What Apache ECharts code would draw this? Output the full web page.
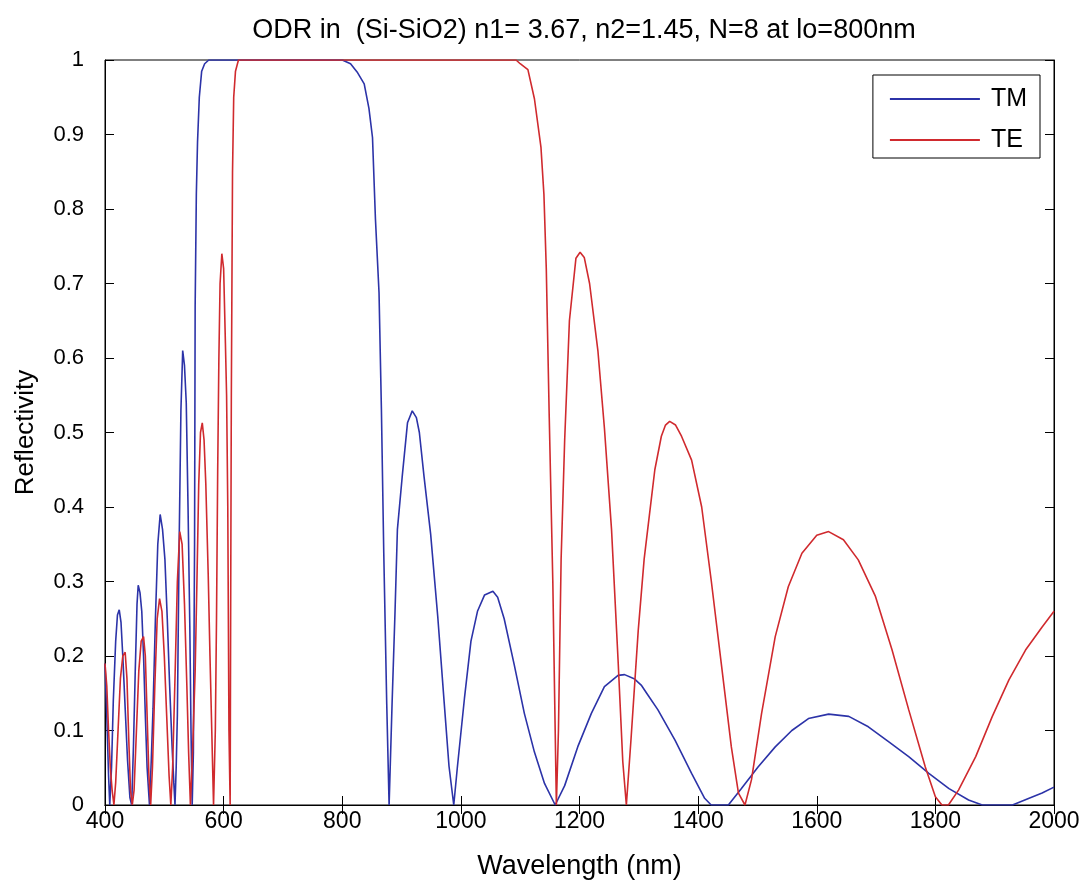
<!DOCTYPE html>
<html>
<head>
<meta charset="utf-8">
<script src="https://cdn.jsdelivr.net/npm/echarts@6/dist/echarts.min.js"></script>
<style>
  html, body { margin: 0; padding: 0; background: #fff; }
  #chart { width: 1084px; height: 882px; }
</style>
</head>
<body>
<div id="chart"></div>
<script>
// [wavelength nm, reflectivity]
const tmCurve = [
  [400,0.19],[403,0.12],[406,0.04],[408,0],[411,0.05],[414,0.14],[418,0.22],[421,0.255],[424,0.262],
  [427,0.245],[430,0.2],[434,0.13],[438,0.06],[442,0.01],[445,0],[448,0.08],[451,0.18],[454,0.27],
  [456,0.295],[459,0.285],[462,0.26],[465,0.2],[468,0.12],[471,0.05],[475,0],[478,0.06],[481,0.13],
  [485,0.25],[489,0.35],[493,0.39],[497,0.37],[501,0.33],[505,0.25],[509,0.16],[513,0.08],[516,0.03],
  [518,0],[520,0.05],[522,0.12],[525,0.35],[528,0.53],[531,0.61],[534,0.59],[537,0.54],[540,0.4],
  [543,0.24],[545,0.1],[547,0],[549,0.07],[551,0.35],[552,0.67],[554,0.82],[556,0.89],[559,0.95],
  [563,0.985],[568,0.995],[575,1],[600,1],[700,1],[790,1],[800,1],[814,0.995],[825,0.984],[837,0.968],
  [845,0.935],[851,0.896],[856,0.786],[862,0.688],[866,0.532],[870,0.338],[875,0.136],[879,0],
  [884,0.136],[889,0.26],[893,0.37],[901,0.44],[910,0.513],[918,0.529],[925,0.52],[930,0.5],[938,0.44],
  [949,0.364],[961,0.253],[972,0.136],[980,0.052],[988,0],[994,0.05],[1006,0.143],[1017,0.22],
  [1028,0.26],[1040,0.282],[1054,0.287],[1062,0.279],[1073,0.25],[1090,0.188],[1107,0.123],
  [1124,0.071],[1141,0.029],[1159,0],[1175,0.026],[1197,0.078],[1220,0.123],[1242,0.159],[1265,0.174],
  [1276,0.175],[1293,0.169],[1304,0.161],[1315,0.148],[1332,0.128],[1361,0.087],[1389,0.0425],
  [1411,0.009],[1422,0],[1451,0],[1473,0.022],[1501,0.051],[1530,0.078],[1558,0.1],[1586,0.116],
  [1620,0.122],[1654,0.119],[1687,0.105],[1721,0.085],[1755,0.065],[1789,0.0425],[1823,0.022],
  [1856,0.0067],[1879,0],[1930,0],[1958,0.009],[1980,0.016],[2000,0.024]
]

const teCurve = [
  [400,0.19],[403,0.16],[406,0.1],[409,0.05],[412,0.02],[415,0],[418,0.03],[422,0.1],[426,0.17],
  [430,0.2],[434,0.205],[437,0.17],[440,0.09],[443,0.02],[446,0],[449,0.02],[453,0.1],[457,0.18],
  [461,0.22],[465,0.226],[468,0.2],[471,0.12],[474,0.04],[477,0],[480,0.05],[484,0.16],[488,0.25],
  [492,0.277],[496,0.26],[500,0.2],[504,0.12],[508,0.04],[511,0],[514,0.05],[518,0.17],[522,0.3],
  [526,0.367],[530,0.35],[534,0.27],[538,0.16],[541,0.07],[544,0],[548,0.08],[552,0.18],[555,0.3],
  [558,0.43],[561,0.5],[564,0.513],[567,0.49],[570,0.43],[574,0.31],[577,0.2],[580,0.1],[583,0],
  [586,0.1],[588,0.25],[590,0.45],[592,0.6],[594,0.7],[597,0.74],[600,0.72],[603,0.62],[605,0.55],
  [607,0.4],[609,0.1],[611,0],[612,0.3],[613,0.55],[615,0.85],[617,0.95],[620,0.985],[625,1],
  [800,1],[1000,1],[1093,1],[1100,0.995],[1113,0.987],[1124,0.948],[1135,0.883],[1140,0.82],
  [1144,0.72],[1149,0.52],[1155,0.3],[1159,0.1],[1161,0],[1164.5,0.1],[1169,0.33],[1175,0.49],
  [1183,0.65],[1194,0.734],[1201,0.742],[1208,0.735],[1217,0.7],[1231,0.61],[1242,0.506],[1254,0.37],
  [1265,0.195],[1273,0.058],[1279,0],[1287,0.09],[1299,0.234],[1309,0.33],[1318,0.39],[1327,0.45],
  [1338,0.495],[1345,0.51],[1352,0.515],[1362,0.51],[1372,0.495],[1389,0.463],[1406,0.4],[1422,0.302],
  [1439,0.19],[1456,0.078],[1468,0.016],[1479,0],[1490,0.034],[1507,0.123],[1530,0.226],[1552,0.293],
  [1575,0.338],[1600,0.362],[1620,0.367],[1645,0.356],[1670,0.329],[1699,0.28],[1727,0.208],
  [1755,0.128],[1783,0.051],[1800,0.011],[1811,0],[1822,0],[1839,0.02],[1868,0.065],[1896,0.119],
  [1924,0.168],[1952,0.208],[1980,0.239],[2000,0.26]
]

const seriesNames = ['TM', 'TE']
const titleText = 'ODR in  (Si-SiO2) n1= 3.67, n2=1.45, N=8 at lo=800nm'

const font = "'Liberation Sans', Arial, Helvetica, sans-serif"

const chart = echarts.init(document.getElementById('chart'), null, { renderer: 'canvas' })

// shared axis look, matlab style: box, ticks inside
const tickStyle = { inside: true, length: 9, lineStyle: { color: '#000', width: 1 } }

chart.setOption({
  animation: false,
  backgroundColor: '#fff',
  title: {
    text: titleText,
    left: 579,
    textAlign: 'center',
    top: 12,
    textStyle: { fontFamily: font, fontSize: 27, fontWeight: 'normal', color: '#000' }
  },
  grid: {
    left: 105,
    right: 30,
    top: 60,
    bottom: 77,
    outerBoundsMode: 'none',
    show: true,
    borderColor: '#000',
    borderWidth: 1
  },
  legend: {
    data: seriesNames,
    orient: 'vertical',
    right: 44,
    top: 75,
    icon: 'rect',
    itemWidth: 90,
    itemHeight: 2,
    itemGap: 13,
    padding: [10, 13, 4, 17],
    borderColor: '#000',
    borderWidth: 1,
    backgroundColor: '#fff',
    textStyle: { fontFamily: font, fontSize: 25, color: '#000', lineHeight: 28, padding: [0, 0, 0, 6] }
  },
  xAxis: [{
    type: 'value',
    min: 400,
    max: 2000,
    interval: 200,
    name: 'Wavelength (nm)',
    nameLocation: 'middle',
    nameGap: 48,
    nameTextStyle: { fontFamily: font, fontSize: 27, color: '#000' },
    axisLine: { lineStyle: { color: '#000' } },
    axisTick: tickStyle,
    axisLabel: { fontFamily: font, fontSize: 23, color: '#000', margin: 5, formatter: v => String(v) },
    splitLine: { show: false }
  }, {
    type: 'value',
    position: 'top',
    min: 400,
    max: 2000,
    interval: 200,
    axisLine: { lineStyle: { color: '#000' } },
    axisTick: tickStyle,
    axisLabel: { show: false },
    splitLine: { show: false }
  }],
  yAxis: [{
    type: 'value',
    min: 0,
    max: 1,
    interval: 0.1,
    name: 'Reflectivity',
    nameLocation: 'middle',
    nameGap: 66,
    nameTextStyle: { fontFamily: font, fontSize: 26, color: '#000' },
    axisLine: { show: true, lineStyle: { color: '#000' } },
    axisTick: tickStyle,
    axisLabel: { fontFamily: font, fontSize: 22, color: '#000', margin: 21 },
    splitLine: { show: false }
  }, {
    type: 'value',
    position: 'right',
    min: 0,
    max: 1,
    interval: 0.1,
    axisLine: { show: true, lineStyle: { color: '#000' } },
    axisTick: tickStyle,
    axisLabel: { show: false },
    splitLine: { show: false }
  }],
  series: [{
    name: seriesNames[0],
    type: 'line',
    data: tmCurve,
    showSymbol: false,
    symbol: 'none',
    color: '#2c33a8',
    lineStyle: { width: 1.6, color: '#2c33a8' },
    z: 3
  }, {
    name: seriesNames[1],
    type: 'line',
    data: teCurve,
    showSymbol: false,
    symbol: 'none',
    color: '#d02a2e',
    lineStyle: { width: 1.6, color: '#d02a2e' },
    z: 4
  }]
})
</script>
</body>
</html>
